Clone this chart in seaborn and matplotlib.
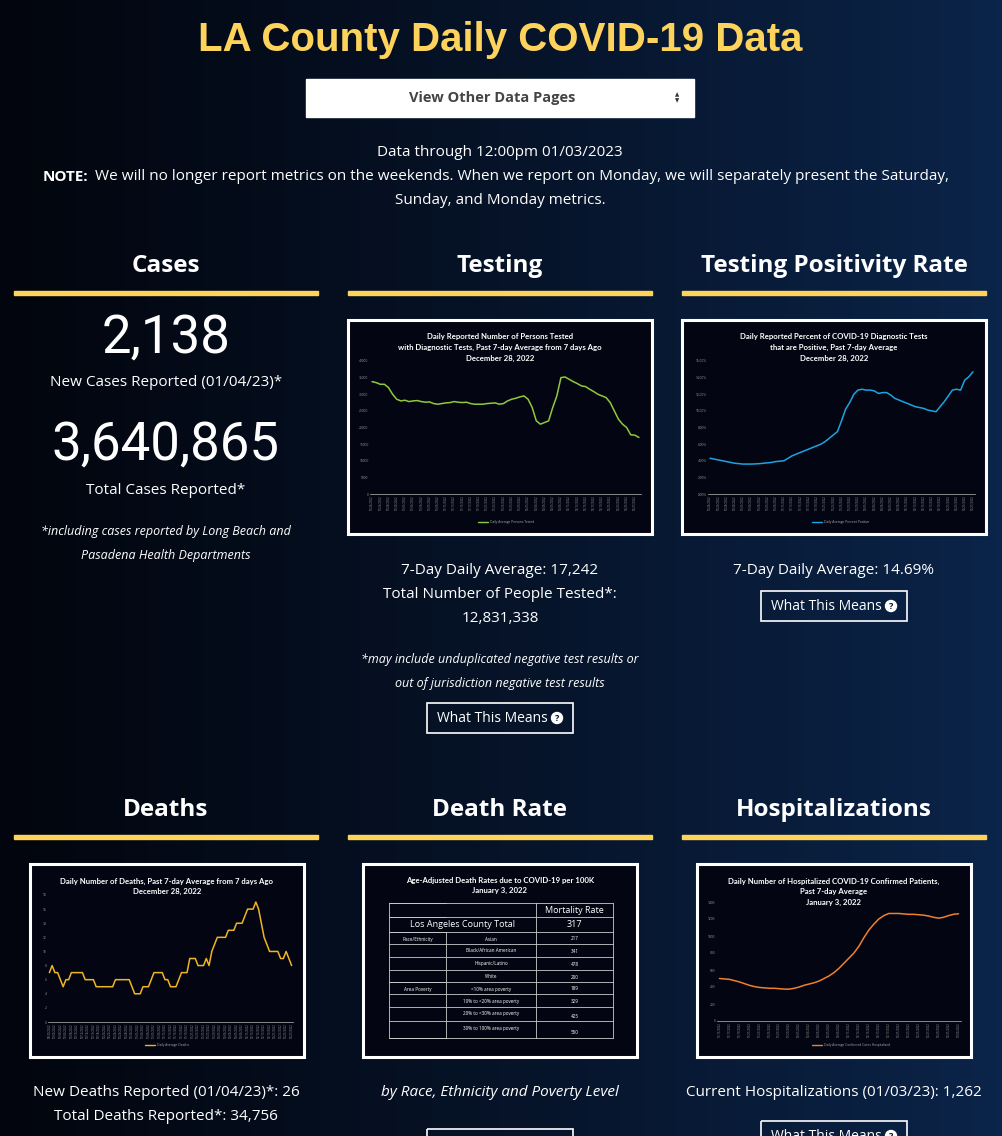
import numpy as np
import pandas as pd
import seaborn as sns
import matplotlib.pyplot as plt
from matplotlib.patches import Rectangle, Circle
from matplotlib.colors import LinearSegmentedColormap

sns.set_theme(style="dark")
plt.rcParams['font.family'] = ['Open Sans', 'DejaVu Sans']

# data read from the page
testing = [33800, 33500, 33000, 33000, 32000, 30000, 28500, 28000, 28200, 27800, 28000, 28100,
           27800, 27600, 27700, 27200, 27000, 27200, 27400, 27500, 27800, 27600, 27500, 27600,
           27200, 27000, 27000, 27000, 27200, 27300, 27400, 27000, 27200, 28000, 28500, 28800,
           29200, 29500, 28500, 26000, 22000, 21000, 21500, 22000, 26000, 29500, 35000, 35200,
           34500, 33800, 33200, 32500, 32300, 31500, 30800, 30000, 29500, 29000, 27500, 25000,
           22500, 21000, 20000, 17800, 17700, 17000]
positivity = [4.3, 4.2, 4.1, 4.0, 3.9, 3.8, 3.7, 3.65, 3.6, 3.6, 3.6, 3.62, 3.65, 3.7, 3.75, 3.8,
              3.9, 3.95, 4.0, 4.3, 4.6, 4.8, 5.0, 5.2, 5.4, 5.6, 5.8, 6.0, 6.3, 6.7, 7.1, 7.5, 8.8,
              10.2, 11.0, 12.0, 12.5, 12.6, 12.5, 12.5, 12.4, 12.1, 12.2, 12.2, 11.9, 11.5, 11.3,
              11.1, 10.9, 10.7, 10.5, 10.4, 10.3, 10.1, 10.0, 9.9, 10.5, 11.1, 11.8, 12.5, 12.6,
              12.5, 13.7, 14.1, 14.7]
deaths = [7, 8, 7, 7, 6, 5, 6, 6, 7, 7, 7, 7, 7, 6, 6, 6, 6, 5, 5, 5, 5, 5, 5, 5, 6, 6, 6, 6, 6,
          6, 5, 4, 4, 4, 5, 5, 5, 6, 7, 7, 7, 7, 6, 6, 5, 5, 5, 6, 7, 7, 7, 9, 9, 9, 8, 8, 8, 9, 8,
          10, 11, 12, 12, 12, 12, 13, 13, 13, 14, 14, 14, 15, 16, 16, 16, 17, 16, 14, 12, 11, 10,
          10, 10, 10, 9, 9, 10, 9, 8]
hosp = [500, 495, 490, 475, 460, 440, 420, 405, 395, 390, 385, 385, 380, 375, 375, 385, 400, 420,
        435, 450, 470, 500, 530, 570, 620, 680, 740, 800, 880, 980, 1070, 1140, 1200, 1240, 1265,
        1265, 1265, 1260, 1255, 1255, 1250, 1245, 1235, 1220, 1210, 1220, 1240, 1255, 1262]

groups = ["Race/Ethnicity", "", "", "", "Area Poverty", "", "", ""]
subgroups = ["Asian", "Black/African American", "Hispanic/Latino", "White", "<10% area poverty",
             "10% to <20% area poverty", "20% to <30% area poverty", "30% to 100% area poverty"]
rates = [217, 341, 478, 200, 189, 329, 425, 550]

YEL = '#fdd35c'
W = 'white'
BODY = 11

fig = plt.figure(figsize=(10.02, 11.36), dpi=100)
ax = fig.add_axes([0, 0, 1, 1])
grad = np.linspace(0, 1, 256).reshape(1, -1)
cm = LinearSegmentedColormap.from_list('bg', ['#02050d', '#061328', '#0b2449'])
ax.imshow(grad, extent=[0, 1002, 1136, 0], aspect='auto', cmap=cm, zorder=0)
ax.set_xlim(0, 1002)
ax.set_ylim(1136, 0)
ax.axis('off')


def T(x, y, s, size=BODY, **kw):
    kw.setdefault('ha', 'center')
    kw.setdefault('color', W)
    ax.text(x, y, s, fontsize=size, va='center', **kw)


def button(cx, top):
    ax.add_patch(Rectangle((cx - 73, top), 146, 30, fill=False, ec=W, lw=1.2))
    T(cx - 8, top + 15, "What This Means", 10)
    ax.add_patch(Circle((cx + 57, top + 15), 5.5, color=W))
    T(cx + 57, top + 15.5, "?", 6.5, color='#061328', weight='bold')


T(500, 40, "LA County Daily COVID-19 Data", 29, color=YEL, weight='bold', family='Liberation Sans')
ax.add_patch(Rectangle((306, 79), 388, 38, color=W))
T(492, 98, "View Other Data Pages", 10.5, color='#444444', weight='bold')
T(677, 95, "▲", 4, color='#333333')
T(677, 101, "▼", 4, color='#333333')
T(500, 153, "Data through 12:00pm 01/03/2023")
T(43, 177, "NOTE:", ha='left', weight='bold')
T(95, 177, "We will no longer report metrics on the weekends. When we report on Monday, we will separately present the Saturday,", ha='left')
T(500, 201, "Sunday, and Monday metrics.")

cols = [166, 500, 834]
for cx, name in zip(cols, ["Cases", "Testing", "Testing Positivity Rate"]):
    T(cx, 266, name, 17.5, weight='bold')
    ax.add_patch(Rectangle((cx - 152, 291), 304, 4, color=YEL))
for cx, name in zip(cols, ["Deaths", "Death Rate", "Hospitalizations"]):
    T(cx, 810, name, 17.5, weight='bold')
    ax.add_patch(Rectangle((cx - 152, 835), 304, 4, color=YEL))

# cases column
T(166, 338, "2,138", 38, family='Roboto')
T(166, 383, "New Cases Reported (01/04/23)*")
T(166, 445, "3,640,865", 38, family='Roboto')
T(166, 490, "Total Cases Reported*")
T(166, 531, "*including cases reported by Long Beach and", 9, style='italic')
T(166, 555, "Pasadena Health Departments", 9, style='italic')

T(500, 570, "7-Day Daily Average: 17,242")
T(500, 594, "Total Number of People Tested*:")
T(500, 618, "12,831,338")
T(500, 659, "*may include unduplicated negative test results or", 9, style='italic')
T(500, 683, "out of jurisdiction negative test results", 9, style='italic')
button(500, 703)
T(834, 570, "7-Day Daily Average: 14.69%")
button(834, 591)

T(166, 1093, "New Deaths Reported (01/04/23)*: 26")
T(166, 1117, "Total Deaths Reported*: 34,756")
T(500, 1093, "by Race, Ethnicity and Poverty Level", style='italic')
button(500, 1129)
T(834, 1093, "Current Hospitalizations (01/03/23): 1,262")
button(834, 1121)


def px(x0, y0, x1, y1):
    return [x0 / 1002, 1 - y1 / 1136, (x1 - x0) / 1002, (y1 - y0) / 1136]


def chart(box, plot, title, ys, color, ymax, step, fmt, legend, start):
    bx0, by0, bx1, by1 = box
    ax.add_patch(Rectangle((bx0, by0), bx1 - bx0, by1 - by0, fc='#030612', ec=W, lw=2.2, zorder=2))
    for i, s in enumerate(title.split('\n')):
        ax.text((bx0 + bx1) / 2, by0 + 17 + i * 10.5, s, fontsize=5.6, color=W, weight='bold',
                ha='center', va='center', zorder=3, family='Lato')
    cax = fig.add_axes(px(*plot))
    df = pd.DataFrame({'i': range(len(ys)), 'v': ys})
    sns.lineplot(data=df, x='i', y='v', ax=cax, color=color, lw=1.1)
    cax.patch.set_alpha(0)
    cax.set_xlim(-0.5, len(ys) - 0.5)
    cax.set_ylim(0, ymax)
    yt = np.arange(0, ymax + step / 2, step)
    cax.set_yticks(yt)
    cax.set_yticklabels([fmt(v) for v in yt], fontsize=2.3, color='#999999')
    dates = pd.date_range(start, periods=len(ys)).strftime('%m/%d/%Y')
    xi = list(range(0, len(ys), 2))
    cax.set_xticks(xi)
    cax.set_xticklabels([dates[i] for i in xi], fontsize=2, rotation=90, color='#999999')
    cax.tick_params(length=0, pad=1)
    cax.grid(False)
    cax.set_xlabel('')
    cax.set_ylabel('')
    for s in ['top', 'right', 'left']:
        cax.spines[s].set_visible(False)
    cax.spines['bottom'].set_color('#bbbbbb')
    cax.spines['bottom'].set_linewidth(0.5)
    cx = (bx0 + bx1) / 2
    ax.plot([cx - 22, cx - 12], [by1 - 12, by1 - 12], color=color, lw=1, zorder=3)
    ax.text(cx - 10, by1 - 12, legend, fontsize=2.3, color='#aaaaaa', va='center', zorder=3)


chart((348, 320, 652, 534), (370, 361, 641, 494),
      "Daily Reported Number of Persons Tested\nwith Diagnostic Tests, Past 7-day Average from 7 days Ago\nDecember 28, 2022",
      testing, '#8fc93a', 40000, 5000, lambda v: f"{v:.0f}", "Daily Average Persons Tested", '2022-10-24')
chart((682, 320, 986, 534), (708, 361, 975, 494),
      "Daily Reported Percent of COVID-19 Diagnostic Tests\nthat are Positive, Past 7-day Average\nDecember 28, 2022",
      positivity, '#1ca3e0', 16, 2, lambda v: f"{v:.2f}%", "Daily Average Percent Positive", '2022-10-24')
chart((30, 864, 304, 1057), (48, 895, 293, 1022),
      "Daily Number of Deaths, Past 7-day Average from 7 days Ago\nDecember 28, 2022",
      deaths, '#f0b323', 18, 2, lambda v: f"{v:.0f}", "Daily Average Deaths", '2022-09-30')
chart((697, 864, 971, 1057), (717, 902, 961, 1021),
      "Daily Number of Hospitalized COVID-19 Confirmed Patients,\nPast 7-day Average\nJanuary 3, 2022",
      hosp, '#f07f2a', 1400, 200, lambda v: f"{v:.0f}", "Daily Average Confirmed Cases Hospitalized", '2022-11-15')

# death rate table image
ax.add_patch(Rectangle((363, 864), 274, 193, fc='#030612', ec=W, lw=2.2, zorder=2))
T(500, 880, "Age-Adjusted Death Rates due to COVID-19 per 100K", 5.6, weight='bold', family='Lato', zorder=3)
T(500, 890, "January 3, 2022", 5.6, weight='bold', family='Lato', zorder=3)
rows = [864 + r / 3 for r in [118, 160, 205, 240, 278, 317, 355, 390, 428, 472, 522]]
x0, xa, xb, x1 = 389, 446, 536, 613
lc = '#cccccc'
for i, r in enumerate(rows):
    left = x0 if i in (0, 1, 2, 6, 10) else xa
    ax.plot([left, x1], [r, r], color=lc, lw=0.6, zorder=3)
    ax.plot([x0, xa], [r, r], color=lc, lw=0.6, zorder=3)
ax.plot([x0, x0], [rows[0], rows[-1]], color=lc, lw=0.6, zorder=3)
ax.plot([x1, x1], [rows[0], rows[-1]], color=lc, lw=0.6, zorder=3)
ax.plot([xb, xb], [rows[0], rows[-1]], color=lc, lw=0.6, zorder=3)
ax.plot([xa, xa], [rows[2], rows[-1]], color=lc, lw=0.6, zorder=3)
T((xb + x1) / 2, (rows[0] + rows[1]) / 2, "Mortality Rate", 6.5, zorder=3)
T((x0 + xb) / 2, (rows[1] + rows[2]) / 2, "Los Angeles County Total", 6.5, zorder=3)
T((xb + x1) / 2, (rows[1] + rows[2]) / 2, "317", 6.5, zorder=3)
for k in range(8):
    ya, yb = rows[k + 2], rows[k + 3]
    T((x0 + xa) / 2, ya + 7, groups[k], 3.3, zorder=3)
    T((xa + xb) / 2, ya + 7, subgroups[k], 3.3, zorder=3)
    T((xb + x1) / 2, yb - 5, str(rates[k]), 3.3, zorder=3)

fig.savefig('out.png', dpi=100)
